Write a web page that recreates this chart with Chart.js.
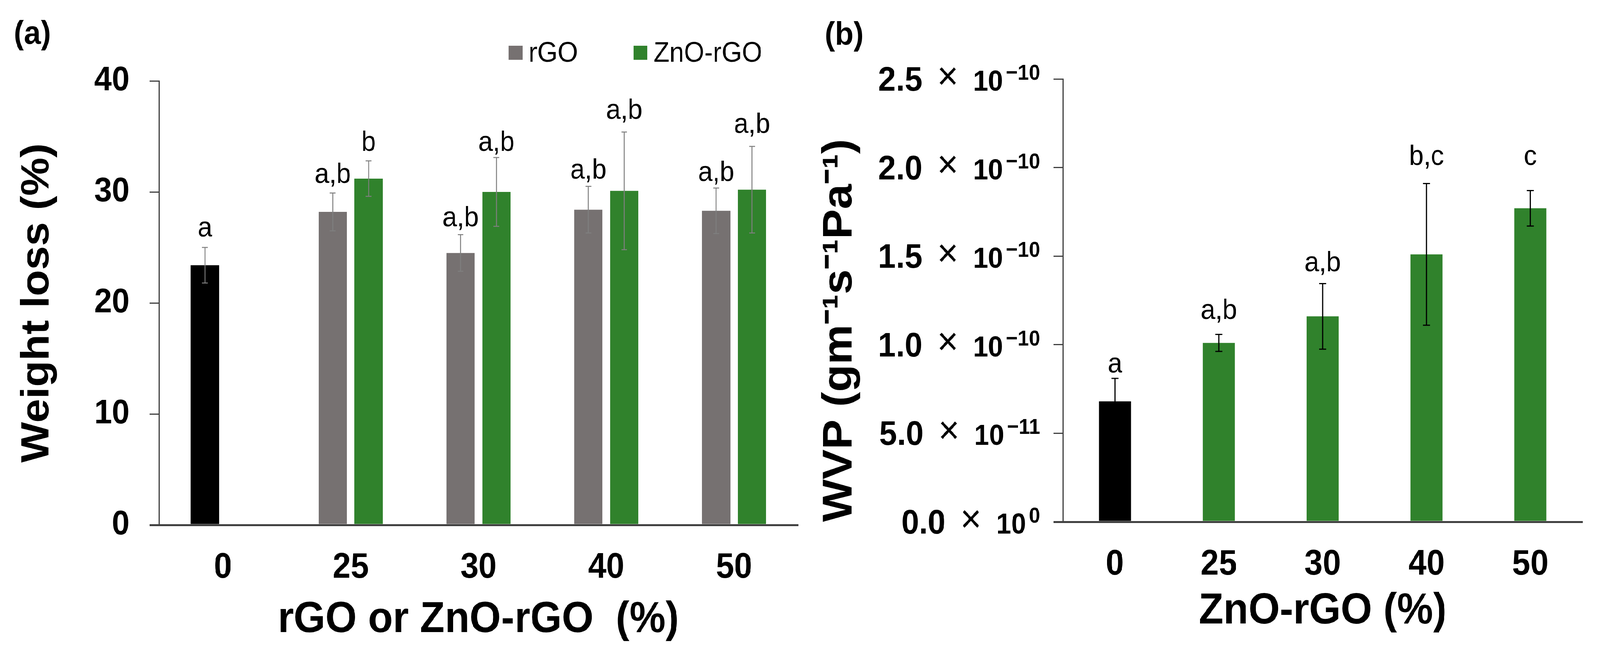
<!DOCTYPE html>
<html>
<head>
<meta charset="utf-8">
<script src="https://cdn.jsdelivr.net/npm/chart.js@4.4.1/dist/chart.umd.min.js"></script>
<style>
  html, body { margin: 0; padding: 0; background: #fff; overflow: hidden; }
  #page { position: absolute; left: 0; top: 0; width: 4419px; height: 1691px; transform-origin: 0 0; }
  .panel { position: absolute; top: 0; height: 1691px; }
  #panelA { left: 0; width: 2240px; }
  #panelB { left: 2240px; width: 2179px; }
</style>
</head>
<body>
<div id="page">
  <div class="panel" id="panelA"><canvas id="lossChart"></canvas></div>
  <div class="panel" id="panelB"><canvas id="wvpChart"></canvas></div>
</div>
<script>
// Dữ liệu
const categories = ["0", "25", "30", "40", "50"];

// (a) Weight loss (%) — cột 0 là mẫu đối chứng (màu đen)
const rgoLoss = [23.4, 28.2, 24.5, 28.4, 28.3];
const rgoLossErr = [1.6, 1.7, 1.65, 2.1, 2.05];
const znoLoss = [null, 31.2, 30.0, 30.1, 30.2];
const znoLossErr = [null, 1.6, 3.1, 5.3, 3.9];
const rgoLetters = ["a", "a,b", "a,b", "a,b", "a,b"];
const rgoLetterY = [26.0, 30.8, 26.9, 31.2, 31.0];
const znoLetters = [null, "b", "a,b", "a,b", "a,b"];
const znoLetterY = [null, 33.7, 33.7, 36.6, 35.3];
const lossTicks = { min: 0, max: 40, step: 10 };

// (b) WVP (g m-1 s-1 Pa-1)
const wvp = [0.68e-10, 1.01e-10, 1.16e-10, 1.51e-10, 1.77e-10];
const wvpErr = [0.13e-10, 0.048e-10, 0.185e-10, 0.4e-10, 0.1e-10];
const wvpLetters = ["a", "a,b", "a,b", "b,c", "c"];
const wvpLetterY = [0.843e-10, 1.145e-10, 1.415e-10, 2.015e-10, 2.015e-10];
const wvpTicks = { min: 0, max: 2.5e-10, step: 0.5e-10 };

const BLACK = "#000000";
const GRAY = "#767171";
const GREEN = "#30822c";
const AXIS = "#404040";
const FONT = "'Liberation Sans', Arial, sans-serif";

Chart.defaults.font.family = FONT;
Chart.defaults.color = "#000";

// Số dạng 2.5 × 10^-10
function sciParts(v) {
  if (Math.abs(v) < 1e-20) return { mant: "0.0", exp: "0" };
  const e = Math.floor(Math.log10(Math.abs(v)) + 1e-9);
  const m = v / Math.pow(10, e);
  return { mant: m.toFixed(1), exp: (e < 0 ? "\u2212" : "") + Math.abs(e) };
}

// Plugin: thanh sai số, chữ cái thống kê, nhãn (a)/(b), chú giải, nhãn trục khoa học
const barNotes = {
  id: "barNotes",
  afterDatasetsDraw(chart, args, opts) {
    const ctx = chart.ctx;
    const y = chart.scales.y;
    ctx.save();
    chart.data.datasets.forEach((ds, di) => {
      const meta = chart.getDatasetMeta(di);
      meta.data.forEach((bar, i) => {
        const v = ds.data[i];
        if (v === null || v === undefined) return;
        const e = ds.errors ? ds.errors[i] : null;
        if (e) {
          const top = y.getPixelForValue(v + e);
          const bot = y.getPixelForValue(v - e);
          ctx.strokeStyle = opts.errColor;
          ctx.lineWidth = opts.errWidth;
          ctx.beginPath();
          ctx.moveTo(bar.x, top);
          ctx.lineTo(bar.x, bot);
          ctx.moveTo(bar.x - opts.capHalf, top);
          ctx.lineTo(bar.x + opts.capHalf, top);
          ctx.moveTo(bar.x - opts.capHalf, bot);
          ctx.lineTo(bar.x + opts.capHalf, bot);
          ctx.stroke();
        }
        if (ds.letters && ds.letters[i]) {
          ctx.fillStyle = "#000";
          ctx.font = "72px " + FONT;
          ctx.textAlign = "center";
          ctx.textBaseline = "alphabetic";
          ctx.fillText(ds.letters[i], bar.x, y.getPixelForValue(ds.letterY[i]));
        }
      });
    });
    ctx.restore();
  },
  afterDraw(chart, args, opts) {
    const ctx = chart.ctx;
    ctx.save();
    ctx.fillStyle = "#000";
    ctx.textAlign = "left";
    ctx.textBaseline = "alphabetic";
    ctx.font = "bold 84px " + FONT;
    ctx.fillText(opts.panel, opts.panelX, opts.panelY);

    if (opts.legend) {
      let x = opts.legend.x;
      ctx.font = "72px " + FONT;
      chart.data.datasets.forEach((ds) => {
        if (!ds.legendColor) return;
        ctx.fillStyle = ds.legendColor;
        ctx.fillRect(x, opts.legend.boxTop, 38, 36);
        ctx.fillStyle = "#000";
        ctx.fillText(ds.label, x + 55, opts.legend.baseline);
        x += 55 + ctx.measureText(ds.label).width + opts.legend.gap;
      });
    }

    if (opts.sciTicks) {
      const y = chart.scales.y;
      const ax = chart.chartArea.left;
      y.ticks.forEach((t) => {
        const py = y.getPixelForValue(t.value);
        const p = sciParts(t.value);
        ctx.textAlign = "right";
        ctx.textBaseline = "alphabetic";
        ctx.font = "bold 56px " + FONT;
        const expRight = ax - 63;
        ctx.fillText(p.exp, expRight, py + 2);
        const expW = ctx.measureText(p.exp).width;
        ctx.font = "bold 74px " + FONT;
        const tenRight = expRight - expW - 8;
        ctx.fillText("10", tenRight, py + 30);
        const tenW = ctx.measureText("10").width;
        ctx.font = "100px " + FONT;
        ctx.textAlign = "center";
        ctx.textBaseline = "middle";
        const crossX = tenRight - tenW - 70;
        ctx.fillText("\u00d7", crossX, py - 2);
        ctx.font = "bold 88px " + FONT;
        ctx.textAlign = "right";
        ctx.textBaseline = "alphabetic";
        ctx.fillText(p.mant, crossX - 70, py + 30);
      });
    }
    ctx.restore();
  },
};

function axisX(titleText, titleSize, titleBottom, tickPad, height) {
  return {
    type: "category",
    offset: true,
    grid: { display: false },
    border: { display: true, color: AXIS, width: 5 },
    ticks: { font: { size: 90, weight: "bold" }, padding: tickPad, color: "#000" },
    title: {
      display: true,
      text: titleText,
      font: { size: titleSize, weight: "bold" },
      padding: { top: 0, bottom: titleBottom },
      color: "#000",
    },
    afterFit: (s) => { s.height = height; },
  };
}

function axisY(range, titleText, titleSize, titleTop, align, width, showTicks) {
  return {
    min: range.min,
    max: range.max,
    ticks: {
      stepSize: range.step,
      display: showTicks,
      font: { size: 88, weight: "bold" },
      padding: 55,
      color: "#000",
    },
    grid: {
      display: true,
      drawOnChartArea: false,
      drawTicks: true,
      tickLength: 26,
      color: AXIS,
      lineWidth: (c) => (c.tick && c.tick.value === 0 ? 5 : 3),
    },
    border: { display: true, color: AXIS, width: 3 },
    title: {
      display: true,
      text: titleText,
      align: align,
      font: { size: titleSize, weight: "bold" },
      padding: { top: titleTop, bottom: 0 },
      color: "#000",
    },
    afterFit: (s) => { s.width = width; },
  };
}

function createLossChart() {
  return new Chart(document.getElementById("lossChart").getContext("2d"), {
    type: "bar",
    data: {
      labels: categories,
      datasets: [
        {
          label: "rGO",
          data: rgoLoss,
          errors: rgoLossErr,
          letters: rgoLetters,
          letterY: rgoLetterY,
          legendColor: GRAY,
          backgroundColor: categories.map((c, i) => (i === 0 ? BLACK : GRAY)),
          borderWidth: 0,
          categoryPercentage: 0.561,
          barPercentage: 0.788,
        },
        {
          label: "ZnO-rGO",
          data: znoLoss,
          errors: znoLossErr,
          letters: znoLetters,
          letterY: znoLetterY,
          legendColor: GREEN,
          backgroundColor: GREEN,
          borderWidth: 0,
          categoryPercentage: 0.561,
          barPercentage: 0.788,
        },
      ],
    },
    options: {
      responsive: true,
      maintainAspectRatio: false,
      animation: false,
      layout: { padding: { left: 0, right: 36, top: 207, bottom: 0 } },
      plugins: {
        legend: { display: false },
        tooltip: { enabled: false },
        barNotes: {
          panel: "(a)",
          panelX: 38,
          panelY: 112,
          legend: { x: 1405, boxTop: 117, baseline: 158, gap: 154 },
          sciTicks: false,
          errColor: "#7f7f7f",
          errWidth: 2.5,
          capHalf: 8,
        },
      },
      scales: {
        x: axisX("rGO or ZnO-rGO  (%)", 112, 38, 48, 348),
        y: axisY(lossTicks, "Weight loss (%)", 110, 38, "center", 439, true),
      },
    },
    plugins: [barNotes],
  });
}

function createWvpChart() {
  return new Chart(document.getElementById("wvpChart").getContext("2d"), {
    type: "bar",
    data: {
      labels: categories,
      datasets: [
        {
          label: "WVP",
          data: wvp,
          errors: wvpErr,
          letters: wvpLetters,
          letterY: wvpLetterY,
          backgroundColor: categories.map((c, i) => (i === 0 ? BLACK : GREEN)),
          borderWidth: 0,
          categoryPercentage: 0.5,
          barPercentage: 0.614,
        },
      ],
    },
    options: {
      responsive: true,
      maintainAspectRatio: false,
      animation: false,
      layout: { padding: { left: 0, right: 49, top: 202, bottom: 0 } },
      plugins: {
        legend: { display: false },
        tooltip: { enabled: false },
        barNotes: {
          panel: "(b)",
          panelX: 38,
          panelY: 115,
          legend: null,
          sciTicks: true,
          errColor: "#000",
          errWidth: 3,
          capHalf: 10,
        },
      },
      scales: {
        x: axisX("ZnO-rGO (%)", 112, 60, 48, 356),
        y: axisY(wvpTicks, "WVP (gm\u207b\u00b9s\u207b\u00b9Pa\u207b\u00b9)", 115, 11, "start", 696, false),
      },
    },
    plugins: [barNotes],
  });
}

// Cửa sổ thực tế nhỏ hơn 4419 px: co trang cho vừa khung
function fitPage() {
  const kx = window.innerWidth / 4419;
  const ky = window.innerHeight / 1691;
  document.getElementById("page").style.transform = "scale(" + kx + "," + ky + ")";
}

document.addEventListener("DOMContentLoaded", () => {
  fitPage();
  createLossChart();
  createWvpChart();
});
</script>
</body>
</html>
